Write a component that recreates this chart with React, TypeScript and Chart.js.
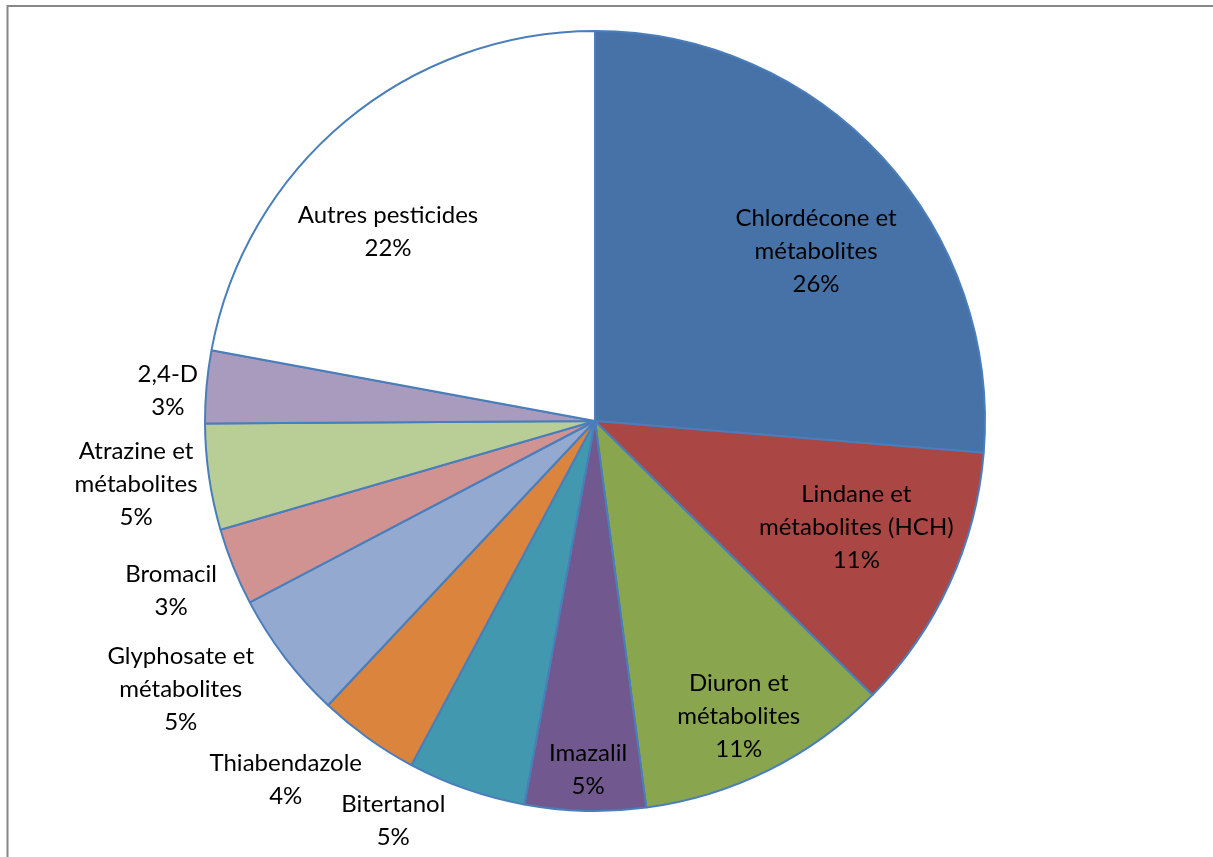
import { useEffect, useRef } from 'react';
import { Chart, registerables } from 'chart.js';

Chart.register(...registerables);

const categories = [
  'Chlordécone et\nmétabolites',
  'Lindane et\nmétabolites (HCH)',
  'Diuron et\nmétabolites',
  'Imazalil',
  'Bitertanol',
  'Thiabendazole',
  'Glyphosate et\nmétabolites',
  'Bromacil',
  'Atrazine et\nmétabolites',
  '2,4-D',
  'Autres pesticides',
];
const values = [26.3, 11.1, 10.5, 5.0, 4.9, 4.2, 5.3, 3.2, 4.4, 3.0, 22.1];
const percentLabels = ['26%', '11%', '11%', '5%', '5%', '4%', '5%', '3%', '5%', '3%', '22%'];
const colors = [
  '#4672A8', '#AA4644', '#89A54E', '#71598F', '#4198AF', '#DB843D',
  '#93A9CF', '#D19392', '#B9CD96', '#A99BBD', '#FFFFFF',
];
// label placement: distance as fraction of radius, angular shift (deg) from slice middle
const labelRadius = [0.715, 0.723, 0.842, 0.895, 1.149, 1.215, 1.266, 1.171, 1.188, 1.098, 0.719];
const labelAngleShift = [5.1, -2.6, 0.5, -0.3, 7.5, 5.1, 4.3, 0.1, 0.4, -1, -7.8];

const FONT = '24px Lato, "Open Sans", sans-serif';
const LINE_H = 33;

const framePlugin = {
  id: 'frame',
  beforeDraw(chart: any) {
    const ctx = chart.ctx;
    ctx.save();
    ctx.fillStyle = '#FFFFFF';
    ctx.fillRect(0, 0, chart.width, chart.height);
    ctx.strokeStyle = '#878787';
    ctx.lineWidth = 2;
    ctx.beginPath();
    ctx.moveTo(7.5, chart.height + 5);
    ctx.lineTo(7.5, 6);
    ctx.lineTo(chart.width + 5, 6);
    ctx.stroke();
    ctx.restore();
  },
};

const labelPlugin = {
  id: 'sliceLabels',
  afterDatasetsDraw(chart: any) {
    const ctx = chart.ctx;
    const meta = chart.getDatasetMeta(0);
    ctx.save();
    ctx.font = FONT;
    ctx.fillStyle = '#000000';
    ctx.textAlign = 'center';
    ctx.textBaseline = 'middle';
    meta.data.forEach((arc: any, i: number) => {
      const { x, y, startAngle, endAngle, outerRadius } = arc.getProps(
        ['x', 'y', 'startAngle', 'endAngle', 'outerRadius'],
        true
      );
      const mid = (startAngle + endAngle) / 2 + (labelAngleShift[i] * Math.PI) / 180;
      const d = outerRadius * labelRadius[i];
      const px = x + Math.cos(mid) * d;
      const py = y + Math.sin(mid) * d;
      const lines = categories[i].split('\n').concat([percentLabels[i]]);
      const y0 = py - ((lines.length - 1) * LINE_H) / 2;
      lines.forEach((ln, k) => ctx.fillText(ln, px, y0 + k * LINE_H));
    });
    ctx.restore();
  },
};

export default function App() {
  const ref = useRef<HTMLCanvasElement | null>(null);
  useEffect(() => {
    if (!ref.current) return;
    const chart = new Chart(ref.current, {
      type: 'pie',
      data: {
        labels: categories.map((c) => c.replace('\n', ' ')),
        datasets: [
          {
            data: values,
            backgroundColor: colors,
            borderColor: '#4A7EBB',
            borderWidth: 2,
          },
        ],
      },
      options: {
        animation: false,
        responsive: true,
        maintainAspectRatio: false,
        radius: 390,
        layout: { padding: { left: 0, right: 23, top: 0, bottom: 15 } },
        plugins: {
          legend: { display: false },
          tooltip: { enabled: false },
        },
      } as any,
      plugins: [framePlugin, labelPlugin],
    });
    return () => chart.destroy();
  }, []);
  return (
    <div style={{ position: 'fixed', left: 0, top: 0, width: 1213, height: 857, background: '#fff' }}>
      <canvas ref={ref} />
    </div>
  );
}
